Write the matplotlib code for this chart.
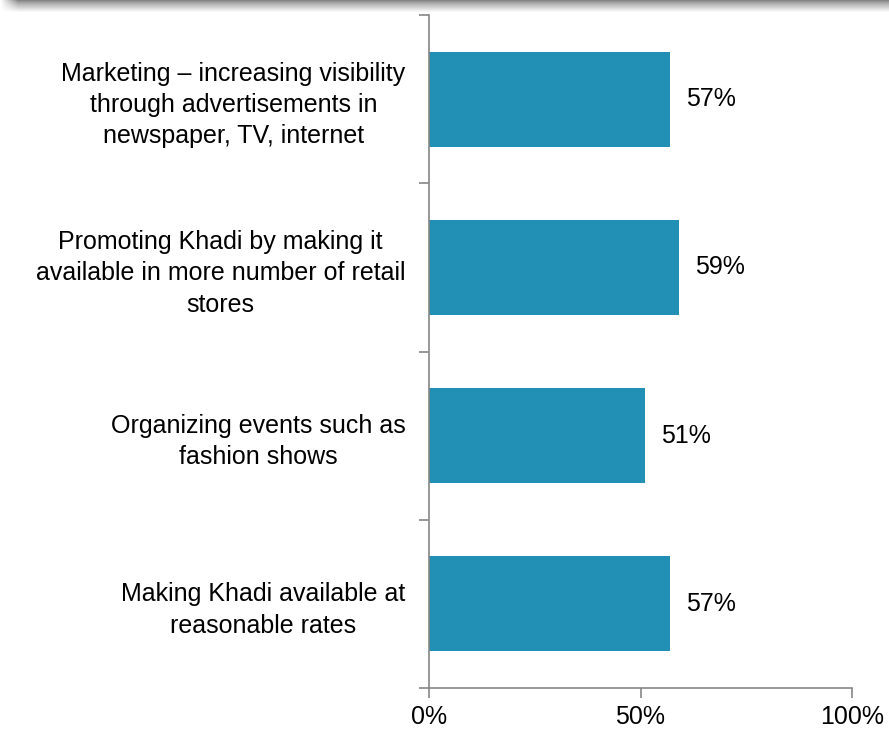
import numpy as np
import matplotlib
matplotlib.use("Agg")
import matplotlib.pyplot as plt
from matplotlib.ticker import FixedLocator, FuncFormatter

plt.rcParams["font.family"] = ["Liberation Sans", "DejaVu Sans"]

categories = [
    "Marketing \u2013 increasing visibility\nthrough advertisements in\nnewspaper, TV, internet",
    "Promoting Khadi by making it\navailable in more number of retail\nstores",
    "Organizing events such as\nfashion shows",
    "Making Khadi available at\nreasonable rates",
]
values = [57, 59, 51, 57]
x_ticks = [0, 50, 100]

BAR = "#228fb5"
AXIS = "#868686"
FS = 18

fig = plt.figure(figsize=(8.89, 7.3), dpi=100, facecolor="white")

# grey header band fading downward and in from the left edge
band = fig.add_axes([0, 1 - 16 / 730, 1, 16 / 730])
rows = np.clip(np.linspace(0, 1, 16) / 0.8, 0, 1) ** 0.8
grad = (0.52 + 0.48 * rows)[:, None] * np.ones((1, 889))
fade = np.clip(np.arange(889) / 18.0, 0, 1)[None, :]
img = 1 - (1 - grad) * fade
band.imshow(img, cmap="gray", vmin=0, vmax=1, aspect="auto", interpolation="bilinear")
band.axis("off")

ax = fig.add_axes([429 / 889, 1 - 688 / 730, (852 - 429) / 889, (688 - 15) / 730])
n = len(categories)
pos = np.arange(n)[::-1]
ax.barh(pos, values, height=0.565, color=BAR, zorder=2)
for y, v in zip(pos, values):
    ax.text(v + 3.8, y, f"{v}%", va="center", ha="left", fontsize=FS, color="black")

ax.set_xlim(0, 100)
ax.set_ylim(-0.5, n - 0.5)
ax.xaxis.set_major_locator(FixedLocator(x_ticks))
ax.xaxis.set_major_formatter(FuncFormatter(lambda v, p: f"{v:.0f}%"))
ax.yaxis.set_major_locator(FixedLocator(np.arange(n + 1) - 0.5))
ax.set_yticklabels([])
ax.set_yticks(pos, minor=True)
ax.set_yticklabels(categories, minor=True, fontsize=FS, ha="right",
                   multialignment="center", linespacing=1.38)
ax.tick_params(axis="y", which="minor", length=0, pad=17)
ax.tick_params(axis="y", which="major", length=7, width=1.2, color=AXIS)
ax.tick_params(axis="x", length=7, width=1.2, color=AXIS, labelsize=FS, pad=5)

for s in ["top", "right"]:
    ax.spines[s].set_visible(False)
for s in ["left", "bottom"]:
    ax.spines[s].set_color(AXIS)
    ax.spines[s].set_linewidth(1.2)

fig.savefig("out.png", dpi=100, facecolor="white")
